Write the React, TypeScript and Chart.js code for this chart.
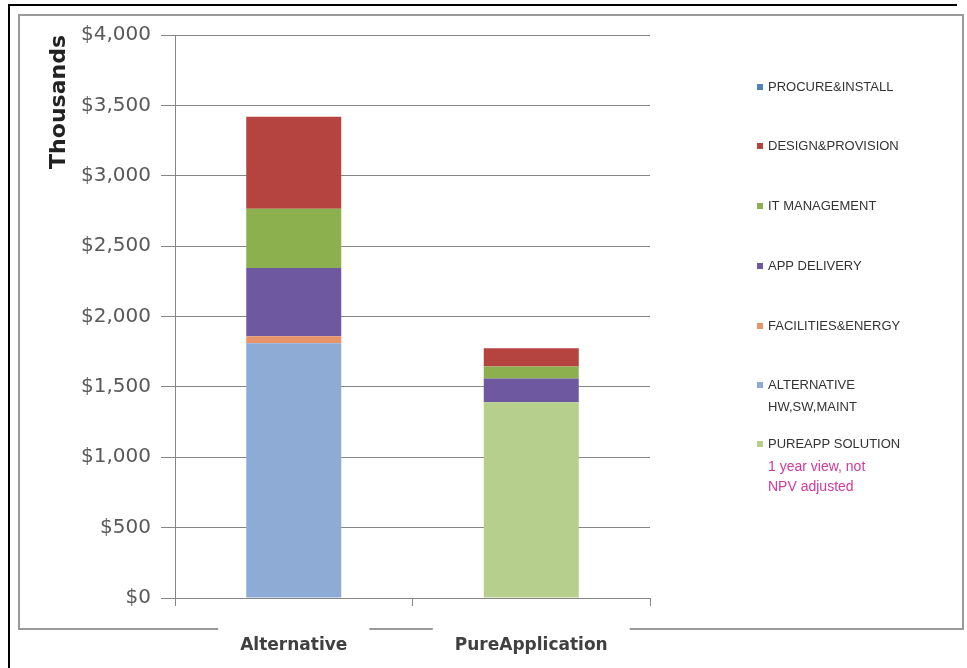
import React, { useEffect, useRef } from "react";
import { Chart, registerables } from "chart.js";

Chart.register(...registerables);

const categories = ["Alternative", "PureApplication"];
const seriesNames = [
  "PUREAPP SOLUTION",
  "ALTERNATIVE\nHW,SW,MAINT",
  "FACILITIES&ENERGY",
  "APP DELIVERY",
  "IT MANAGEMENT",
  "DESIGN&PROVISION",
  "PROCURE&INSTALL",
];
const pureAppSolution = [0, 1390];
const alternativeHw = [1810, 0];
const facilitiesEnergy = [50, 0];
const appDelivery = [485, 170];
const itManagement = [420, 85];
const designProvision = [655, 130];
const procureInstall = [0, 0];
const seriesValues = [
  pureAppSolution,
  alternativeHw,
  facilitiesEnergy,
  appDelivery,
  itManagement,
  designProvision,
  procureInstall,
];
const seriesColors = [
  "#B7CF8D",
  "#8EABD6",
  "#E8946A",
  "#6E58A0",
  "#8DB04E",
  "#B5433F",
  "#4F81BD",
];
const yTicks = [0, 500, 1000, 1500, 2000, 2500, 3000, 3500, 4000];
const noteLines = ["1 year view, not", "NPV adjusted"];

// legend layout (top-to-bottom, reverse of stack order)
const legendCentersY = [87, 146, 206, 266, 326, 385, 444];
const legendLineGap = 22;

const framePlugin = {
  id: "frame",
  beforeDraw(chart: any) {
    const ctx = chart.ctx;
    ctx.save();
    ctx.fillStyle = "#ffffff";
    ctx.fillRect(0, 0, chart.width, chart.height);
    // black outer lines
    ctx.fillStyle = "#000000";
    ctx.fillRect(8, 4, 949, 2);
    ctx.fillRect(8, 4, 2, chart.height - 4);
    // gray inner border
    ctx.strokeStyle = "#9a9a9a";
    ctx.lineWidth = 2;
    ctx.strokeRect(19, 15, 944, 614);
    ctx.restore();
  },
};

const legendPlugin = {
  id: "customLegend",
  afterDraw(chart: any) {
    const ctx = chart.ctx;
    ctx.save();
    const ds = chart.data.datasets.slice().reverse();
    ctx.font = "13px 'Liberation Sans', Arial, sans-serif";
    ctx.textBaseline = "middle";
    ctx.textAlign = "left";
    ds.forEach((d: any, i: number) => {
      const y = legendCentersY[i];
      ctx.fillStyle = d.backgroundColor;
      ctx.fillRect(757, y - 3, 6, 6);
      ctx.fillStyle = "#333333";
      String(d.label)
        .split("\n")
        .forEach((line: string, j: number) => {
          ctx.fillText(line, 768, y + j * legendLineGap);
        });
    });
    ctx.fillStyle = "#D0399E";
    ctx.font = "14px 'Liberation Sans', Arial, sans-serif";
    noteLines.forEach((line, j) => {
      ctx.fillText(line, 768, 467 + j * 20);
    });
    ctx.restore();
  },
};

export default function App() {
  const ref = useRef<HTMLCanvasElement>(null);
  useEffect(() => {
    document.body.style.margin = "0";
    const chart = new Chart(ref.current as HTMLCanvasElement, {
      type: "bar",
      data: {
        labels: categories,
        datasets: seriesNames.map((name, i) => ({
          label: name,
          data: seriesValues[i],
          backgroundColor: seriesColors[i],
          borderWidth: 0,
          categoryPercentage: 1,
          barPercentage: 0.4,
        })),
      },
      options: {
        animation: false,
        responsive: false,
        layout: { padding: { left: 44, top: 35, right: 317, bottom: 0 } },
        plugins: { legend: { display: false }, tooltip: { enabled: false } },
        scales: {
          x: {
            stacked: true,
            afterFit: (s: any) => {
              s.height = 70;
            },
            grid: {
              offset: true,
              drawOnChartArea: false,
              drawTicks: true,
              tickLength: 8,
              color: "#868686",
            },
            border: { display: true, color: "#868686" },
            ticks: {
              padding: 29,
              color: "#404040",
              font: { family: "'DejaVu Sans', sans-serif", size: 17, weight: "bold" },
              showLabelBackdrop: true,
              backdropColor: "#ffffff",
              backdropPadding: { top: 8, bottom: 4, left: 22, right: 22 },
            },
          },
          y: {
            stacked: true,
            min: 0,
            max: 4000,
            afterFit: (s: any) => {
              s.width = 131;
            },
            afterBuildTicks: (s: any) => {
              s.ticks = yTicks.map((v) => ({ value: v }));
            },
            grid: { color: "#868686", tickLength: 14, lineWidth: 1 },
            border: { display: true, color: "#868686" },
            ticks: {
              padding: 10,
              color: "#595959",
              font: { family: "'DejaVu Sans', sans-serif", size: 20 },
              callback: (v: any) => "$" + Number(v).toLocaleString("en-US"),
            },
            title: {
              display: true,
              text: "Thousands",
              align: "end",
              color: "#222222",
              padding: { top: 2, bottom: 0 },
              font: { family: "'DejaVu Sans', sans-serif", size: 22, weight: "bold" },
            },
          },
        },
      },
      plugins: [framePlugin, legendPlugin],
    });
    return () => chart.destroy();
  }, []);
  return <canvas ref={ref} width={967} height={668} style={{ display: "block" }} />;
}
